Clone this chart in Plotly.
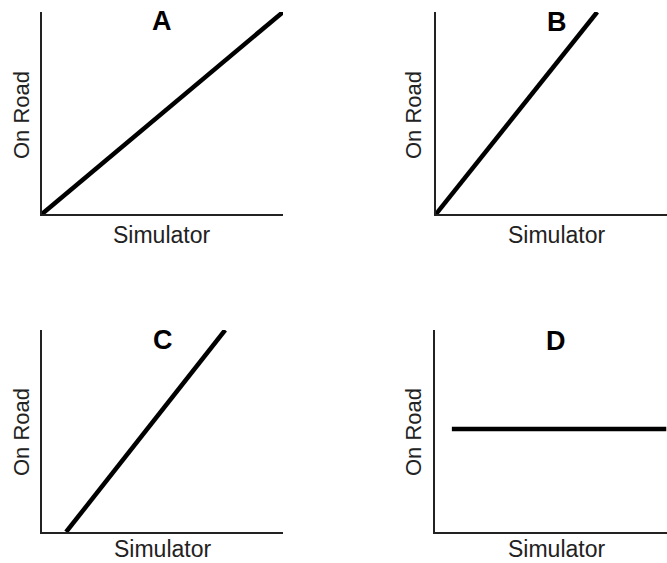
import plotly.graph_objects as go

W, H = 667, 563

# Data (normalized units: axis spans 0..1 in each panel)
panels = ["A", "B", "C", "D"]
sim_A = [0.0, 1.0]
road_A = [0.0, 1.0]
sim_B = [0.0, 0.67]
road_B = [0.0, 1.0]
sim_C = [0.10, 0.76]
road_C = [0.0, 1.0]
sim_D = [0.07, 0.96]
road_D = [0.51, 0.51]
x_label = "Simulator"
y_label = "On Road"

def px(x):
    return x / W

def py(y):
    return 1 - y / H

# panel geometry in pixels: (left, right, top, bottom)
geom = {
    "A": (42, 283, 12, 214),
    "B": (436, 667, 12, 214),
    "C": (42, 283, 330, 532),
    "D": (435, 667, 330, 532),
}
xranges = {"A": [0, 1], "B": [0, 0.96], "C": [0, 1], "D": [0, 0.963]}
title_pos = {"A": (162, 21), "B": (557, 22), "C": (163, 340), "D": (556, 341)}
# (x, y, anchor)
xlab_pos = {"A": (161, 235, "middle"), "B": (556, 235, "middle"),
            "C": (162, 563, "bottom"), "D": (556, 563, "bottom")}
ylab_pos = {"A": (21, 115), "B": (413, 115), "C": (21, 432), "D": (413, 432)}

data = {"A": (sim_A, road_A), "B": (sim_B, road_B), "C": (sim_C, road_C), "D": (sim_D, road_D)}

fig = go.Figure()
font = "Liberation Sans, Arial, Helvetica, sans-serif"
annotations = []
layout_axes = {}
for i, p in enumerate(panels):
    n = "" if i == 0 else str(i + 1)
    l, r, t, b = geom[p]
    xs, ys = data[p]
    fig.add_trace(go.Scatter(x=xs, y=ys, mode="lines",
                             line=dict(color="black", width=4.5),
                             xaxis="x" + n, yaxis="y" + n, showlegend=False,
                             hoverinfo="skip"))
    axstyle = dict(showgrid=False, zeroline=False, showticklabels=False,
                   ticks="", showline=True, linecolor="#222", linewidth=2,
                   fixedrange=True)
    layout_axes["xaxis" + n] = dict(domain=[px(l), px(r)], range=xranges[p],
                                    anchor="y" + n, **axstyle)
    layout_axes["yaxis" + n] = dict(domain=[py(b), py(t)], range=[0, 1],
                                    anchor="x" + n, **axstyle)
    tx, ty = title_pos[p]
    annotations.append(dict(text="<b>%s</b>" % p, x=px(tx), y=py(ty), xref="paper", yref="paper",
                            xanchor="center", yanchor="middle", showarrow=False,
                            font=dict(family=font, size=27, color="black")))
    lx, ly, anc = xlab_pos[p]
    annotations.append(dict(text=x_label, x=px(lx), y=py(ly), xref="paper", yref="paper",
                            xanchor="center", yanchor=anc, showarrow=False, borderpad=0,
                            font=dict(family=font, size=23, color="#222")))
    yx, yy = ylab_pos[p]
    annotations.append(dict(text=y_label, x=px(yx), y=py(yy), xref="paper", yref="paper",
                            xanchor="center", yanchor="middle", showarrow=False, textangle=-90,
                            font=dict(family=font, size=22, color="#222")))

fig.update_layout(width=W, height=H, margin=dict(l=0, r=0, t=0, b=0),
                  paper_bgcolor="white", plot_bgcolor="white",
                  annotations=annotations, **layout_axes)
fig.write_html("out.html", config={"displayModeBar": False},
               post_script="document.body.style.margin='0';document.body.style.overflow='hidden';")
